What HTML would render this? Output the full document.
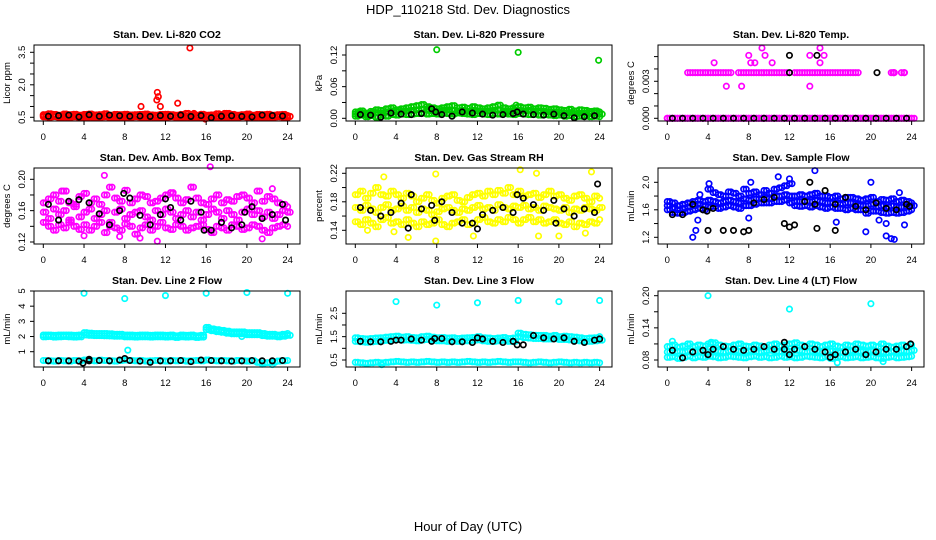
<!DOCTYPE html>
<html><head><meta charset="utf-8">
<style>
html,body{margin:0;padding:0;background:#fff;}
svg{display:block;font-family:"Liberation Sans",sans-serif;}
</style></head>
<body>
<svg id="chart" width="936" height="540" viewBox="0 0 936 540" xmlns="http://www.w3.org/2000/svg">
<text x="468" y="14" font-size="13" text-anchor="middle">HDP_110218  Std. Dev. Diagnostics</text>
<text x="468" y="531" font-size="13" text-anchor="middle">Hour of Day (UTC)</text>
</svg>
<script>
const xTicks = [0,4,8,12,16,20,24];
// CO2
const co2Hi = [0.62,0.66,0.63,0.6,0.65,0.62,0.64,0.6,0.63,0.65,0.61,0.62,0.66,0.6,0.63,0.62,0.64,0.61,0.62,0.63,0.65,0.61,0.6,0.63,0.64,0.62,0.6,0.63,0.68,0.62,0.6,0.64,0.6,0.61,0.66,0.62,0.68,0.63,0.6,0.62,0.65,0.6,0.63,0.62,0.64,0.6,0.62,0.63,0.58];
const co2Mid = [0.57,0.55,0.58,0.56,0.57,0.55,0.58,0.56,0.55,0.57,0.56,0.58,0.55,0.57,0.56,0.55,0.58,0.56,0.57,0.55,0.56,0.58,0.57,0.55,0.56,0.57,0.58,0.55,0.56,0.57,0.55,0.58,0.56,0.57,0.55,0.56,0.58,0.57,0.55,0.56,0.57,0.55,0.58,0.56,0.57,0.55,0.56,0.55,0.54];
const co2Lo = [0.52,0.5,0.53,0.49,0.51,0.5,0.52,0.48,0.5,0.51,0.49,0.5,0.52,0.48,0.5,0.51,0.49,0.5,0.52,0.5,0.49,0.51,0.5,0.48,0.5,0.52,0.49,0.5,0.51,0.5,0.49,0.5,0.52,0.5,0.48,0.51,0.5,0.49,0.5,0.52,0.5,0.49,0.51,0.5,0.48,0.5,0.52,0.5,0.47];
const co2Black = [0.55,0.58,0.6,0.52,0.62,0.55,0.6,0.57,0.55,0.56,0.54,0.58,0.55,0.6,0.54,0.58,0.48,0.55,0.57,0.54,0.52,0.6,0.58,0.56];
const co2Out = [[14.4,3.7],[11.2,1.65],[11.3,1.45],[11.15,1.3],[11.5,1.0],[9.6,1.0],[13.2,1.15],[15.9,0.42],[14.8,0.68],[17.8,0.68]];
const co2BlackOut = [];
// Pressure
const prsHi = [0.012,0.014,0.01,0.013,0.016,0.015,0.018,0.02,0.016,0.018,0.02,0.022,0.024,0.026,0.022,0.02,0.018,0.02,0.022,0.024,0.02,0.021,0.019,0.022,0.02,0.018,0.02,0.022,0.025,0.02,0.018,0.02,0.022,0.02,0.021,0.018,0.02,0.019,0.017,0.018,0.016,0.015,0.017,0.014,0.016,0.015,0.013,0.014,0.012];
const prsMid = [0.008,0.01,0.007,0.009,0.011,0.01,0.012,0.014,0.012,0.013,0.014,0.015,0.016,0.017,0.015,0.014,0.013,0.015,0.016,0.015,0.014,0.015,0.013,0.015,0.014,0.013,0.014,0.015,0.016,0.014,0.013,0.014,0.015,0.014,0.015,0.013,0.014,0.013,0.012,0.012,0.011,0.01,0.011,0.009,0.01,0.01,0.009,0.01,0.008];
const prsLo = [0.004,0.006,0.003,0.005,0.002,0.006,0.004,0.007,0.006,0.008,0.007,0.008,0.009,0.01,0.008,0.009,0.008,0.01,0.009,0.008,0.01,0.009,0.008,0.007,0.009,0.008,0.007,0.009,0.008,0.01,0.008,0.007,0.009,0.008,0.007,0.008,0.006,0.007,0.006,0.005,0.006,0.004,0.005,0.003,0.004,0.005,0.003,0.004,0.003];
const prsBlack = [0.007,0.006,0.002,0.01,0.008,0.007,0.009,0.018,0.007,0.004,0.012,0.01,0.008,0.006,0.007,0.009,0.008,0.007,0.006,0.008,0.005,0.001,0.003,0.005];
const prsOut = [[8,0.13],[16,0.125],[23.9,0.11],[7.2,0.018],[15.8,0.025]];
const prsBlackOut = [[7.9,0.012],[15.9,0.012]];
// Temp
const tmpHi = [null,null,null,null,0.0037,0.0037,0.0037,0.0037,0.0037,0.0037,0.0037,0.0037,0.0037,null,0.0037,0.0037,0.0037,0.0037,0.0037,0.0037,0.0037,0.0037,0.0037,0.0037,null,0.0037,0.0037,0.0037,0.0037,0.0037,0.0037,0.0037,0.0037,0.0037,0.0037,0.0037,0.0037,0.0037,null,null,null,null,null,null,0.0037,null,0.0037,null,null];
const tmpMid = [0,0,0,0,0,0,0,0,0,0,0,0,0,0,0,0,0,0,0,0,0,0,0,0,0,0,0,0,0,0,0,0,0,0,0,0,0,0,0,0,0,0,0,0,0,0,0,0,0];
const tmpLo = [0,0,0,0,0,0,0,0,0,0,0,0,0,0,0,0,0,0,0,0,0,0,0,0,0,0,0,0,0,0,0,0,0,0,0,0,0,0,0,0,0,0,0,0,0,0,0,0,0];
const tmpBlack = [0,0,0,0,0,0,0,0,0,0,0,0,0,0,0,0,0,0,0,0,0,0,0,0];
const tmpOut = [[9.3,0.0057],[15,0.0057],[8,0.0051],[9.6,0.0051],[14,0.0051],[15.4,0.0051],[4.6,0.0045],[8.2,0.0045],[8.6,0.0045],[10.3,0.0045],[15,0.0045],[5.8,0.0026],[7.3,0.0026],[14,0.0026],[22.3,0.0037],[23.3,0.0037],[22.2,0.0037]];
const tmpBlackOut = [[12,0.0051],[14.7,0.0051],[12,0.0037],[20.6,0.0037]];
// Amb box
const ambHi = [0.17,0.175,0.18,0.172,0.185,0.17,0.168,0.178,0.182,0.17,0.175,0.168,0.18,0.19,0.176,0.172,0.186,0.17,0.175,0.18,0.178,0.17,0.172,0.176,0.18,0.183,0.176,0.17,0.174,0.19,0.176,0.17,0.168,0.175,0.18,0.17,0.174,0.172,0.178,0.18,0.176,0.17,0.185,0.172,0.178,0.175,0.17,0.168,0.165];
const ambMid = [0.158,0.15,0.162,0.155,0.16,0.148,0.165,0.152,0.158,0.162,0.15,0.155,0.16,0.145,0.158,0.162,0.15,0.155,0.158,0.16,0.152,0.148,0.16,0.155,0.162,0.158,0.15,0.155,0.16,0.152,0.158,0.148,0.155,0.162,0.158,0.15,0.16,0.155,0.148,0.158,0.162,0.155,0.16,0.152,0.158,0.15,0.155,0.16,0.158];
const ambLo = [0.145,0.14,0.135,0.142,0.138,0.145,0.14,0.136,0.142,0.135,0.14,0.145,0.132,0.14,0.138,0.135,0.143,0.14,0.13,0.138,0.142,0.135,0.14,0.145,0.138,0.136,0.142,0.14,0.135,0.138,0.14,0.142,0.136,0.132,0.14,0.138,0.135,0.142,0.14,0.136,0.138,0.142,0.14,0.135,0.132,0.138,0.14,0.142,0.14];
const ambBlack = [0.168,0.148,0.172,0.174,0.17,0.156,0.142,0.16,0.176,0.154,0.142,0.155,0.164,0.148,0.172,0.158,0.135,0.145,0.138,0.142,0.165,0.15,0.155,0.168];
const ambOut = [[6,0.205],[16.4,0.216],[11.2,0.121],[4,0.128],[9.5,0.125],[7.5,0.127],[14.5,0.19],[21.5,0.124],[22.5,0.188],[1.8,0.185],[12.7,0.182]];
const ambBlackOut = [[7.9,0.182],[12,0.175],[15.8,0.135],[19.8,0.158],[23.8,0.148]];
// RH
const rhHi = [0.19,0.195,0.185,0.192,0.2,0.19,0.188,0.195,0.19,0.185,0.192,0.188,0.18,0.185,0.19,0.182,0.178,0.185,0.188,0.19,0.182,0.18,0.186,0.19,0.192,0.188,0.195,0.19,0.196,0.192,0.2,0.19,0.195,0.188,0.19,0.192,0.186,0.19,0.195,0.188,0.19,0.185,0.182,0.188,0.19,0.185,0.18,0.188,0.185];
const rhMid = [0.172,0.168,0.175,0.17,0.165,0.172,0.176,0.168,0.17,0.174,0.168,0.172,0.165,0.17,0.168,0.162,0.166,0.17,0.172,0.168,0.165,0.17,0.168,0.172,0.175,0.17,0.172,0.168,0.176,0.172,0.17,0.174,0.172,0.175,0.17,0.172,0.168,0.174,0.172,0.17,0.168,0.172,0.165,0.17,0.168,0.172,0.17,0.168,0.172];
const rhLo = [0.152,0.148,0.155,0.15,0.145,0.155,0.158,0.15,0.152,0.148,0.155,0.15,0.145,0.152,0.148,0.15,0.155,0.148,0.145,0.15,0.152,0.155,0.148,0.15,0.155,0.158,0.152,0.15,0.155,0.152,0.158,0.155,0.15,0.155,0.158,0.152,0.155,0.15,0.152,0.155,0.15,0.148,0.152,0.145,0.15,0.148,0.152,0.15,0.155];
const rhBlack = [0.172,0.168,0.16,0.165,0.178,0.19,0.17,0.175,0.18,0.165,0.15,0.15,0.162,0.168,0.172,0.165,0.185,0.176,0.168,0.182,0.17,0.16,0.17,0.165];
const rhOut = [[16.2,0.225],[23.2,0.222],[17.8,0.22],[7.9,0.219],[2.8,0.215],[7.9,0.125],[5.2,0.13],[18,0.132],[11.6,0.132],[20,0.132],[22.6,0.136],[1.2,0.14],[3.8,0.138]];
const rhBlackOut = [[23.8,0.205],[5.2,0.143],[12,0.142],[19.7,0.15],[7.8,0.154],[15.9,0.19]];
// Sample flow
const sfHi = [1.72,1.7,1.66,1.68,1.7,1.72,1.74,1.72,1.9,1.85,1.82,1.8,1.86,1.84,1.8,1.9,1.84,1.86,1.82,1.88,1.84,1.9,1.92,1.95,1.98,1.8,1.82,1.8,1.82,1.84,1.8,1.8,1.78,1.8,1.76,1.78,1.78,1.76,1.74,1.76,1.78,1.72,1.75,1.74,1.76,1.72,1.74,1.72,1.7];
const sfMid = [1.66,1.62,1.6,1.62,1.64,1.66,1.68,1.66,1.74,1.72,1.7,1.72,1.74,1.72,1.7,1.76,1.74,1.76,1.76,1.78,1.76,1.8,1.8,1.82,1.8,1.72,1.72,1.72,1.72,1.74,1.72,1.7,1.7,1.7,1.68,1.7,1.7,1.68,1.66,1.66,1.68,1.64,1.66,1.64,1.66,1.64,1.64,1.64,1.66];
const sfLo = [1.6,1.56,1.55,1.56,1.58,1.6,1.62,1.6,1.64,1.65,1.62,1.64,1.66,1.64,1.62,1.66,1.66,1.68,1.7,1.7,1.7,1.72,1.72,1.74,1.7,1.66,1.65,1.66,1.64,1.66,1.64,1.62,1.64,1.62,1.62,1.6,1.62,1.6,1.6,1.55,1.58,1.58,1.56,1.55,1.56,1.55,1.56,1.58,1.6];
const sfBlack = [1.53,1.53,1.68,1.6,1.62,1.3,1.3,1.28,1.7,1.75,1.78,1.4,1.38,1.72,1.68,1.88,1.68,1.78,1.65,1.6,1.7,1.62,1.6,1.68];
const sfOut = [[2.5,1.2],[2.8,1.3],[3,1.45],[10.9,2.08],[12,2.05],[14.5,2.17],[20,2.0],[21.5,1.22],[22,1.18],[22.3,1.17],[21.5,1.4],[23.3,1.38],[19.5,1.28],[20.8,1.45],[8,1.48],[16.6,1.42],[22.8,1.85],[4.1,1.98],[8.2,2.0],[3.2,1.82]];
const sfBlackOut = [[12,1.35],[14.7,1.33],[16.5,1.3],[14,2.0],[8,1.3],[3.9,1.58],[23.8,1.65],[4,1.3]];
// Line 2
const l2Hi = [2.1,2.1,2.08,2.1,2.1,2.1,2.08,2.1,2.25,2.22,2.2,2.2,2.2,2.18,2.15,2.15,2.1,2.1,2.08,2.1,2.1,2.08,2.1,2.1,2.08,2.1,2.05,2.1,2.08,2.1,2.05,2.08,2.6,2.5,2.45,2.4,2.35,2.3,2.3,2.3,2.25,2.25,2.25,2.2,2.15,2.15,2.1,2.15,2.2];
const l2Mid = [1.98,2.0,1.96,1.98,2.0,1.98,1.96,1.98,2.1,2.08,2.06,2.06,2.05,2.04,2.02,2.02,1.98,1.98,1.96,1.98,1.98,1.96,1.98,1.98,1.96,1.98,1.94,1.98,1.96,1.98,1.94,1.96,2.45,2.38,2.32,2.28,2.22,2.18,2.18,2.18,2.12,2.12,2.12,2.06,2.02,2.02,1.98,2.02,2.08];
const l2Lo = [0.42,0.4,0.38,0.42,0.4,0.38,0.42,0.4,0.45,0.42,0.4,0.44,0.42,0.4,0.38,0.42,0.45,0.42,0.4,0.42,0.38,0.4,0.42,0.4,0.38,0.42,0.4,0.42,0.38,0.4,0.42,0.4,0.45,0.42,0.4,0.42,0.4,0.38,0.42,0.4,0.38,0.4,0.3,0.25,0.28,0.3,0.38,0.4,0.42];
const l2Black = [0.4,0.4,0.4,0.38,0.4,0.42,0.4,0.45,0.42,0.38,0.3,0.4,0.4,0.42,0.35,0.45,0.42,0.4,0.38,0.4,0.42,0.4,0.4,0.42];
const l2Out = [[4,4.85],[8,4.5],[12,4.7],[16,4.85],[20,4.9],[24,4.85],[8.3,1.1],[19.5,2.0],[22.5,0.15],[21.5,0.18]];
const l2BlackOut = [[3.9,0.25],[8,0.55],[4.5,0.5]];
// Line 3
const l3Hi = [1.45,1.42,1.4,1.42,1.44,1.45,1.48,1.5,1.52,1.48,1.5,1.46,1.45,1.5,1.52,1.48,1.45,1.46,1.44,1.45,1.42,1.44,1.45,1.46,1.5,1.45,1.44,1.42,1.44,1.46,1.42,1.44,1.65,1.6,1.58,1.56,1.55,1.55,1.52,1.55,1.5,1.52,1.5,1.48,1.45,1.42,1.44,1.45,1.5];
const l3Mid = [1.3,1.28,1.26,1.28,1.3,1.32,1.34,1.36,1.38,1.35,1.36,1.34,1.32,1.36,1.38,1.35,1.32,1.32,1.3,1.32,1.3,1.32,1.32,1.34,1.36,1.32,1.3,1.3,1.32,1.34,1.3,1.3,1.5,1.46,1.44,1.42,1.42,1.4,1.4,1.42,1.38,1.38,1.36,1.34,1.32,1.3,1.3,1.32,1.35];
const l3Lo = [0.4,0.38,0.36,0.38,0.4,0.38,0.4,0.42,0.44,0.42,0.4,0.42,0.4,0.42,0.44,0.42,0.4,0.42,0.4,0.42,0.4,0.42,0.44,0.42,0.4,0.42,0.4,0.42,0.44,0.42,0.4,0.42,0.42,0.4,0.38,0.4,0.42,0.4,0.38,0.4,0.42,0.4,0.38,0.4,0.38,0.4,0.38,0.4,0.38];
const l3Black = [1.3,1.28,1.28,1.3,1.35,1.4,1.35,1.3,1.42,1.28,1.28,1.25,1.4,1.3,1.25,1.3,1.15,1.55,1.45,1.4,1.45,1.3,1.25,1.35];
const l3Out = [[4,3.0],[8,2.85],[12,2.95],[16,3.05],[20,3.0],[24,3.05],[2.6,0.3]];
const l3BlackOut = [[12,1.45],[15.9,1.15],[4,1.35],[7.8,1.42],[24,1.4]];
// Line 4
const l4Hi = [0.105,0.108,0.104,0.106,0.11,0.105,0.108,0.106,0.11,0.112,0.108,0.106,0.105,0.108,0.11,0.106,0.105,0.108,0.106,0.104,0.108,0.11,0.106,0.108,0.11,0.112,0.108,0.106,0.11,0.108,0.105,0.108,0.11,0.106,0.104,0.108,0.106,0.11,0.108,0.106,0.108,0.105,0.11,0.106,0.104,0.106,0.108,0.105,0.108];
const l4Mid = [0.095,0.094,0.096,0.095,0.097,0.095,0.096,0.098,0.095,0.097,0.096,0.095,0.097,0.098,0.096,0.095,0.097,0.096,0.095,0.097,0.098,0.096,0.095,0.097,0.096,0.098,0.097,0.095,0.096,0.097,0.095,0.096,0.097,0.095,0.094,0.096,0.097,0.095,0.096,0.095,0.097,0.096,0.095,0.094,0.096,0.095,0.097,0.096,0.098];
const l4Lo = [0.085,0.086,0.083,0.085,0.087,0.084,0.086,0.085,0.087,0.086,0.084,0.085,0.087,0.086,0.085,0.084,0.086,0.087,0.085,0.086,0.084,0.085,0.087,0.085,0.086,0.084,0.085,0.087,0.086,0.085,0.084,0.086,0.083,0.085,0.086,0.084,0.085,0.086,0.084,0.085,0.086,0.084,0.083,0.085,0.086,0.084,0.085,0.086,0.087];
const l4Black = [0.098,0.084,0.095,0.098,0.1,0.105,0.1,0.098,0.1,0.105,0.1,0.1,0.1,0.105,0.1,0.095,0.09,0.095,0.1,0.09,0.095,0.1,0.1,0.105];
const l4Out = [[4,0.2],[12,0.175],[20,0.185],[0.5,0.115],[16.7,0.075],[21.2,0.077],[4.3,0.113]];
const l4BlackOut = [[11.5,0.113],[12,0.09],[16,0.085],[23.9,0.11],[4,0.09]];

const panels = [
 {name:'co2',title:'Stan. Dev. Li-820 CO2',ylab:'Licor ppm',col:'#ff0000',r:0,c:0,v0:0.5,p0:117.3,v1:3.5,p1:52.3,ticks:[0.5,1,1.5,2,2.5,3,3.5],labs:[0.5,2.0,3.5],fmt:1,hi:co2Hi,mid:co2Mid,lo:co2Lo,blk:co2Black,out:co2Out,bout:co2BlackOut},
 {name:'pressure',title:'Stan. Dev. Li-820 Pressure',ylab:'kPa',col:'#00cc00',r:0,c:1,v0:0,p0:118.3,v1:0.12,p1:55,ticks:[0,0.03,0.06,0.09,0.12],labs:[0,0.06,0.12],fmt:2,hi:prsHi,mid:prsMid,lo:prsLo,blk:prsBlack,out:prsOut,bout:prsBlackOut},
 {name:'temp',title:'Stan. Dev. Li-820 Temp.',ylab:'degrees C',col:'#ff00ff',r:0,c:2,v0:0,p0:118.3,v1:0.005,p1:56.6,ticks:[0,0.001,0.002,0.003,0.004,0.005],labs:[0,0.003],fmt:3,hi:tmpHi,mid:tmpMid,lo:tmpLo,blk:tmpBlack,out:tmpOut,bout:tmpBlackOut},
 {name:'amb-box',title:'Stan. Dev. Amb. Box Temp.',ylab:'degrees C',col:'#ff00ff',r:1,c:0,v0:0.12,p0:242,v1:0.20,p1:179.3,ticks:[0.12,0.14,0.16,0.18,0.20],labs:[0.12,0.16,0.20],fmt:2,hi:ambHi,mid:ambMid,lo:ambLo,blk:ambBlack,out:ambOut,bout:ambBlackOut},
 {name:'rh',title:'Stan. Dev. Gas Stream RH',ylab:'percent',col:'#ffff00',r:1,c:1,v0:0.14,p0:230.3,v1:0.22,p1:173.3,ticks:[0.14,0.16,0.18,0.20,0.22],labs:[0.14,0.18,0.22],fmt:2,hi:rhHi,mid:rhMid,lo:rhLo,blk:rhBlack,out:rhOut,bout:rhBlackOut},
 {name:'sample-flow',title:'Stan. Dev. Sample Flow',ylab:'mL/min',col:'#0000ff',r:1,c:2,v0:1.2,p0:237.3,v1:2.0,p1:182.3,ticks:[1.2,1.4,1.6,1.8,2.0],labs:[1.2,1.6,2.0],fmt:1,hi:sfHi,mid:sfMid,lo:sfLo,blk:sfBlack,out:sfOut,bout:sfBlackOut},
 {name:'line2',title:'Stan. Dev. Line 2 Flow',ylab:'mL/min',col:'#00ffff',r:2,c:0,v0:1,p0:351.7,v1:5,p1:291,ticks:[1,2,3,4,5],labs:[1,2,3,4,5],fmt:0,hi:l2Hi,mid:l2Mid,lo:l2Lo,blk:l2Black,out:l2Out,bout:l2BlackOut},
 {name:'line3',title:'Stan. Dev. Line 3 Flow',ylab:'mL/min',col:'#00ffff',r:2,c:1,v0:0.5,p0:360,v1:2.5,p1:313.3,ticks:[0.5,1,1.5,2,2.5],labs:[0.5,1.5,2.5],fmt:1,hi:l3Hi,mid:l3Mid,lo:l3Lo,blk:l3Black,out:l3Out,bout:l3BlackOut},
 {name:'line4',title:'Stan. Dev. Line 4 (LT) Flow',ylab:'mL/min',col:'#00ffff',r:2,c:2,v0:0.08,p0:360,v1:0.20,p1:295.7,ticks:[0.08,0.11,0.14,0.17,0.20],labs:[0.08,0.14,0.20],fmt:2,hi:l4Hi,mid:l4Mid,lo:l4Lo,blk:l4Black,out:l4Out,bout:l4BlackOut}
];

const NS='http://www.w3.org/2000/svg';
const svg=document.getElementById('chart');
function mk(tag,attrs,parent){const e=document.createElementNS(NS,tag);for(const k in attrs)e.setAttribute(k,attrs[k]);(parent||svg).appendChild(e);return e;}
const rowTop=[45,168,291], BH=76, colLeft=[34,346,658], BW=266;

panels.forEach(p=>{
  const g=mk('g',{});
  
  
  const L=colLeft[p.c], T=rowTop[p.r], B=T+BH;
  const xs=h=>L+9.3+h*10.18;
  const ys=v=>p.p0+(v-p.v0)*(p.p1-p.p0)/(p.v1-p.v0);
  const t=mk('text',{x:L+BW/2,y:T-7,'font-size':10.5,'font-weight':'bold','text-anchor':'middle'},g);
  t.textContent=p.title;
  
  
  const yl=mk('text',{x:0,y:0,'font-size':9.5,'text-anchor':'middle',transform:`translate(${L-24},${T+BH/2}) rotate(-90)`},g);
  yl.textContent=p.ylab;
  
  
  const drawPt=(h,v,col,nm)=>{ if(v===null||v===undefined) return;
    const py=ys(v); if(py<T-3||py>B+3) return;
    const c=mk('circle',{cx:xs(h),cy:py,r:2.7,fill:'none',stroke:col,'stroke-width':1.7},g);
    
    
  };
  p.lo.forEach((v,i)=>drawPt(i*0.5,v,p.col,p.name+'-point'));
  p.lo.forEach((v,i)=>{ if(i<48) drawPt(i*0.5+0.25,v,p.col,p.name+'-point'); });
  p.mid.forEach((v,i)=>drawPt(i*0.5+0.25,v,p.col,p.name+'-point'));
  p.mid.forEach((v,i)=>drawPt(i*0.5,v,p.col,p.name+'-point'));
  p.hi.forEach((v,i)=>drawPt(i*0.5,v,p.col,p.name+'-point'));
  p.hi.forEach((v,i)=>{ if(i<48) drawPt(i*0.5+0.25,v,p.col,p.name+'-point'); });
  p.out.forEach(d=>drawPt(d[0],d[1],p.col,p.name+'-outlier'));
  p.blk.forEach((v,i)=>drawPt(i+0.5,v,'#000',p.name+'-mean-point'));
  p.bout.forEach(d=>drawPt(d[0],d[1],'#000',p.name+'-mean-point'));
  const box=mk('rect',{x:L,y:T,width:BW,height:BH,fill:'none',stroke:'#000','stroke-width':1},g);
  
  
  xTicks.forEach(h=>{
    mk('line',{x1:xs(h),x2:xs(h),y1:B,y2:B+4,stroke:'#000','stroke-width':1},g);
    const tx=mk('text',{x:xs(h),y:B+19,'font-size':9.5,'text-anchor':'middle'},g);
    tx.textContent=h;
    
    
  });
  p.ticks.forEach(v=>mk('line',{x1:L-4,x2:L,y1:ys(v),y2:ys(v),stroke:'#000','stroke-width':1},g));
  p.labs.forEach(v=>{
    const tx=mk('text',{x:0,y:0,'font-size':9.5,'text-anchor':'middle',transform:`translate(${L-9},${ys(v)}) rotate(-90)`},g);
    tx.textContent=v.toFixed(p.fmt);
    
    
  });
});
</script>
</body></html>
